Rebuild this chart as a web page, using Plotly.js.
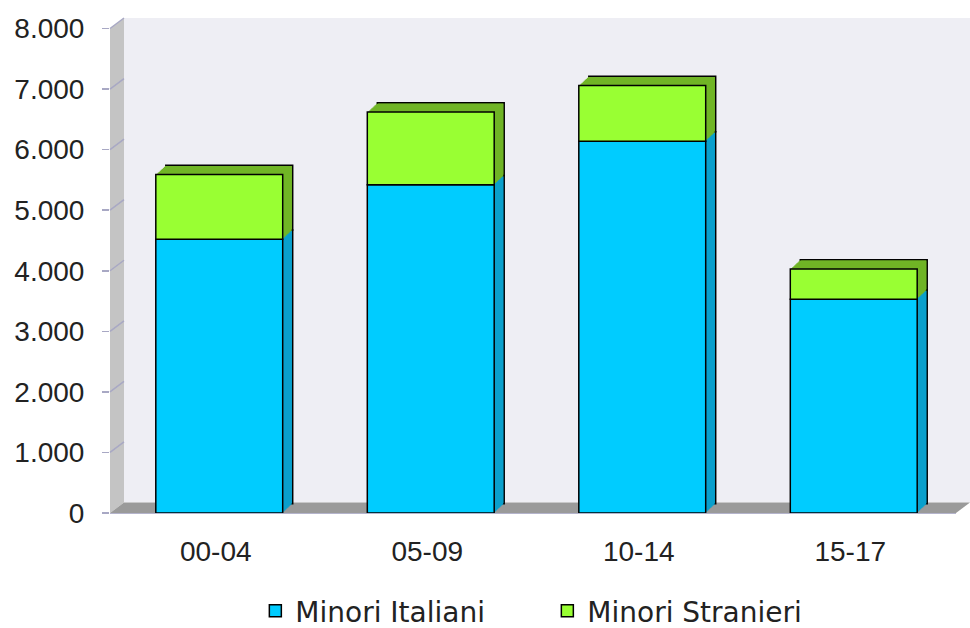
<!DOCTYPE html>
<html><head><meta charset="utf-8">
<script src="https://cdn.plot.ly/plotly-3.0.1.min.js"></script>
<style>html,body{margin:0;padding:0;background:#fff;}#chart{width:970px;height:628px;}</style>
</head><body><div id="chart"></div>
<script>
// ---- data ----
const categories = ['00-04', '05-09', '10-14', '15-17'];
const minoriItaliani = [4520, 5420, 6140, 3530];
const minoriStranieri = [1070, 1200, 920, 500];
const seriesNames = ['Minori Italiani', 'Minori Stranieri'];
const yTickValues = [0, 1000, 2000, 3000, 4000, 5000, 6000, 7000, 8000];
const yTickLabels = ['0', '1.000', '2.000', '3.000', '4.000', '5.000', '6.000', '7.000', '8.000'];
const yMax = 8000;

// ---- geometry / style ----
const W = 970, H = 628;
const M = {l: 110, r: 0, t: 18, b: 115};
const plotW = W - M.l - M.r, plotH = H - M.t - M.b;
const wallDX = 14, wallDY = 10.5;   // depth of the 3D walls (px)
const barDX = 10, barDY = 9.3;      // depth of the 3D bars (px)
const barNudge = 3.5;               // bars sit slightly right of the category centre (px)
const depthSteps = 10;
const frontW = plotW - wallDX, frontH = plotH - wallDY;
const pxPerUnit = frontH / yMax;
const pxPerCat = frontW / categories.length;
const barW = 0.6;
const bx = wallDX / plotW, by = wallDY / plotH;

const FONT = 'Liberation Sans, Arial, Helvetica, sans-serif';
const LEGEND_FONT = 'DejaVu Sans, Verdana, sans-serif';
const col = {
  blue: '#00ccff', blueSide: '#0aa0cc',
  green: '#99ff33', greenSide: '#70b526',
  wall: '#eeeef4', leftWall: '#c4c4c4', floor: '#9a9a9a', grid: '#c4c4dc', tick: '#a8a8c4'
};

function bar(name, y, base, color, offset, line, show) {
  return {
    type: 'bar', name: name, x: categories, y: y, base: base,
    width: barW, offset: offset, xaxis: 'x2', yaxis: 'y2',
    marker: {color: color, line: line},
    showlegend: show, hoverinfo: show ? 'x+y+name' : 'skip'
  };
}

const traces = [];
// depth layers, back to front
for (let k = depthSteps; k >= 1; k--) {
  const f = k / depthSteps;
  const sx = (barNudge + barDX * f) / pxPerCat;
  const sy = barDY * f / pxPerUnit;
  const line = k === depthSteps ? {color: '#000', width: 1.5} : {width: 0};
  traces.push(bar(seriesNames[0] + ' depth', minoriItaliani, minoriItaliani.map(() => sy),
                  col.blueSide, -barW / 2 + sx, line, false));
  traces.push(bar(seriesNames[1] + ' depth', minoriStranieri, minoriItaliani.map(v => v + sy),
                  col.greenSide, -barW / 2 + sx, line, false));
}
// front faces
const front = {color: '#000', width: 1.5};
traces.push(bar(seriesNames[0], minoriItaliani, minoriItaliani.map(() => 0), col.blue,
                -barW / 2 + barNudge / pxPerCat, front, true));
traces.push(bar(seriesNames[1], minoriStranieri, minoriItaliani, col.green,
                -barW / 2 + barNudge / pxPerCat, front, true));

const shapes = [
  {type: 'rect', xref: 'paper', yref: 'paper', x0: bx, x1: 1, y0: by, y1: 1,
   fillcolor: col.wall, line: {width: 0}, layer: 'below'},
  {type: 'path', xref: 'paper', yref: 'paper', layer: 'below',
   path: `M0,0 L0,${frontH / plotH} L${bx},1 L${bx},${by} Z`,
   fillcolor: col.leftWall, line: {width: 0}},
  {type: 'path', xref: 'paper', yref: 'paper', layer: 'below',
   path: `M0,0 L${frontW / plotW},0 L1,${by} L${bx},${by} Z`,
   fillcolor: col.floor, line: {width: 0}}
];
yTickValues.forEach(v => {
  if (v === 0) return;
  const yf = v * pxPerUnit / plotH;
  shapes.push({type: 'line', xref: 'paper', yref: 'paper', layer: 'below',
    x0: 0, x1: bx, y0: yf, y1: yf + by, line: {color: col.tick, width: 1.5}});
});

const layout = {
  width: W, height: H,
  margin: Object.assign({autoexpand: false}, M),
  paper_bgcolor: '#fff', plot_bgcolor: 'rgba(0,0,0,0)',
  barmode: 'overlay',
  font: {family: FONT, color: '#222', size: 28},
  // back wall grid
  xaxis: {domain: [bx, 1], type: 'category', range: [-0.5, 3.5], anchor: 'y',
          showgrid: false, zeroline: false, showticklabels: false, ticks: '', showline: false, fixedrange: true},
  yaxis: {domain: [by, 1], range: [0, yMax], anchor: 'x', tickmode: 'array',
          tickvals: yTickValues.slice(1), showgrid: true, gridcolor: col.grid, gridwidth: 2,
          zeroline: false, showticklabels: false, ticks: '', showline: false, fixedrange: true},
  // front plane (bars, labels)
  xaxis2: {domain: [0, frontW / plotW], type: 'category', range: [-0.5, 3.5], anchor: 'y2',
           showgrid: false, zeroline: false, ticks: '', showline: true, linecolor: '#b4b4cc', linewidth: 1,
           ticklabelstandoff: 13, tickfont: {family: FONT, size: 28, color: '#222'}, fixedrange: true},
  yaxis2: {domain: [0, frontH / plotH], range: [0, yMax], anchor: 'x2', tickmode: 'array',
           tickvals: yTickValues, ticktext: yTickLabels, showgrid: false, zeroline: false,
           ticks: 'outside', ticklen: 7, tickwidth: 1.5, tickcolor: col.tick, showline: false,
           ticklabelstandoff: 12, tickfont: {family: FONT, size: 28, color: '#222'}, fixedrange: true},
  showlegend: true,
  legend: {orientation: 'h', x: 0.169, xanchor: 'left', y: -0.198, yanchor: 'middle',
           font: {family: LEGEND_FONT, size: 28, color: '#222'}, entrywidth: 247, entrywidthmode: 'pixels',
           bgcolor: 'rgba(0,0,0,0)'},
  shapes: shapes
};

Plotly.newPlot('chart', traces, layout, {displayModeBar: false, staticPlot: true});
</script>
</body></html>
